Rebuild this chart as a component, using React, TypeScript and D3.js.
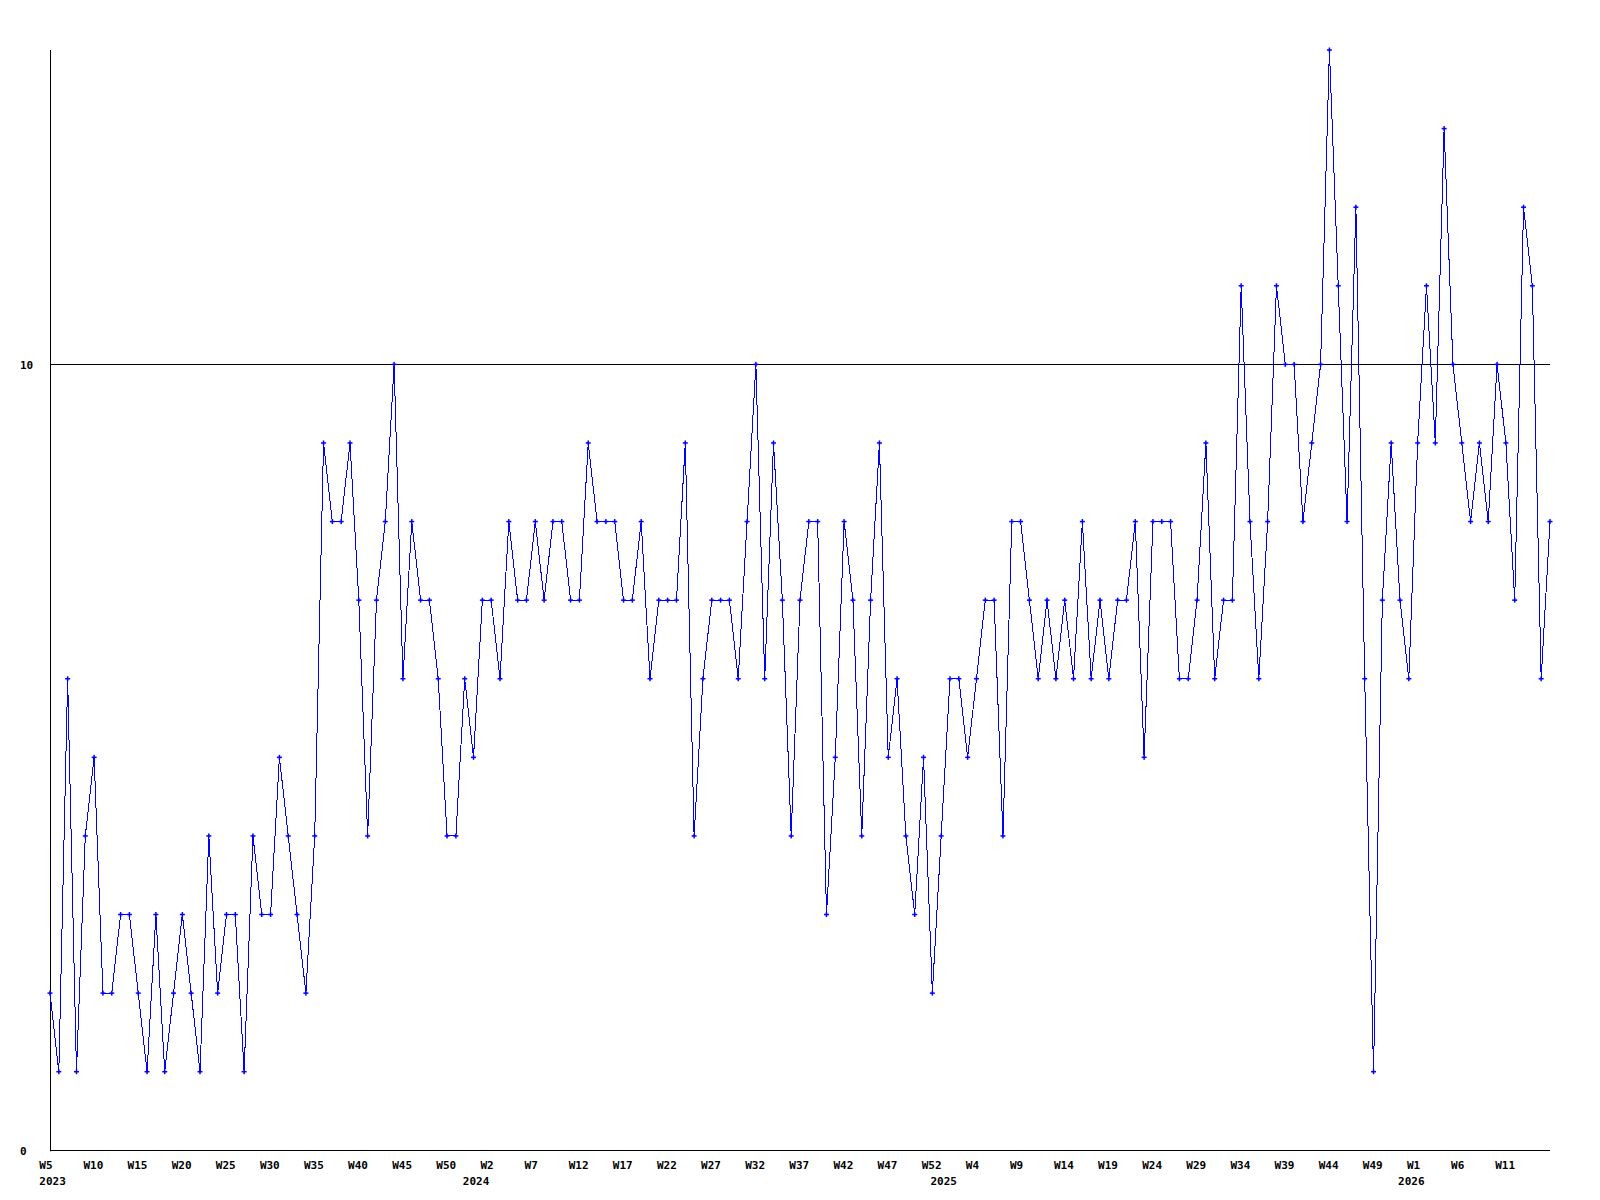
import React from "react";
import * as d3 from "d3";

// Weekly values, 2023 W5 .. 2026 W16 (one value per week)
const values: number[] = [
  2, 1, 6, 1, 4, 5, 2, 2, 3, 3, 2, 1, 3, 1, 2, 3, 2, 1, 4, 2,
  3, 3, 1, 4, 3, 3, 5, 4, 3, 2, 4, 9, 8, 8, 9, 7, 4, 7, 8, 10,
  6, 8, 7, 7, 6, 4, 4, 6, 5, 7, 7, 6, 8, 7, 7, 8, 7, 8, 8, 7,
  7, 9, 8, 8, 8, 7, 7, 8, 6, 7, 7, 7, 9, 4, 6, 7, 7, 7, 6, 8,
  10, 6, 9, 7, 4, 7, 8, 8, 3, 5, 8, 7, 4, 7, 9, 5, 6, 4, 3, 5,
  2, 4, 6, 6, 5, 6, 7, 7, 4, 8, 8, 7, 6, 7, 6, 7, 6, 8, 6, 7,
  6, 7, 7, 8, 5, 8, 8, 8, 6, 6, 7, 9, 6, 7, 7, 11, 8, 6, 8, 11,
  10, 10, 8, 9, 10, 14, 11, 8, 12, 6, 1, 7, 9, 7, 6, 9, 11, 9, 13, 10,
  9, 8, 9, 8, 10, 9, 7, 12, 11, 6, 8,
];

// x-axis week labels, one every 5 weeks starting at the first point
const weekTickLabels: string[] = [
  "W5", "W10", "W15", "W20", "W25", "W30", "W35", "W40", "W45", "W50",
  "W2", "W7", "W12", "W17", "W22", "W27", "W32", "W37", "W42", "W47", "W52",
  "W4", "W9", "W14", "W19", "W24", "W29", "W34", "W39", "W44", "W49",
  "W1", "W6", "W11",
];
const weekTickStep = 5;

// year labels and the week index where each appears
const yearLabels: string[] = ["2023", "2024", "2025", "2026"];
const yearLabelIndex: number[] = [0, 48, 101, 154];

// y-axis labels
const yTicks: number[] = [0, 10];

const W = 1600;
const H = 1200;
const left = 50;
const right = 1550;
const top = 50;
const bottom = 1150.3;

export default function App() {
  const x = d3.scaleLinear().domain([0, values.length - 1]).range([left, right]);
  const y = d3.scaleLinear().domain([0, 14]).range([bottom, top]);

  const line = d3
    .line<number>()
    .x((_, i) => x(i))
    .y((d) => y(d));

  const font = "'DejaVu Sans Mono', 'Liberation Mono', monospace";

  return (
    <svg
      width={W}
      height={H}
      style={{ position: "absolute", left: 0, top: 0, background: "#fff" }}
    >
      <rect x={0} y={0} width={W} height={H} fill="#fff" />
      {/* gridline at 10 */}
      <line x1={left} x2={right} y1={Math.round(y(10)) + 0.5} y2={Math.round(y(10)) + 0.5} stroke="#000" strokeWidth={1} />
      {/* axes */}
      <line x1={left + 0.5} x2={left + 0.5} y1={top} y2={bottom + 1} stroke="#000" strokeWidth={1} />
      <line x1={left} x2={right} y1={Math.round(bottom) + 0.5} y2={Math.round(bottom) + 0.5} stroke="#000" strokeWidth={1} />

      {/* data line */}
      <path
        d={line(values) || ""}
        fill="none"
        stroke="#0000ff"
        strokeWidth={1}
        shapeRendering="crispEdges"
      />
      {values.map((v, i) => {
        const cx = x(i);
        const cy = y(v);
        return (
          <g key={i} fill="#0000ff">
            <rect x={cx - 2.5} y={cy - 0.75} width={5} height={1.5} />
            <rect x={cx - 0.75} y={cy - 2.5} width={1.5} height={5} />
          </g>
        );
      })}

      {/* y labels */}
      {yTicks.map((t) => (
        <text
          key={t}
          x={20}
          y={y(t) + 4.5}
          fontFamily={font}
          fontWeight="bold"
          fontSize={11}
          fill="#000"
        >
          {t}
        </text>
      ))}

      {/* week labels */}
      {weekTickLabels.map((lab, k) => (
        <text
          key={lab + k}
          x={x(k * weekTickStep) - 10.7}
          y={1168.5}
          fontFamily={font}
          fontWeight="bold"
          fontSize={11}
          fill="#000"
        >
          {lab}
        </text>
      ))}

      {/* year labels */}
      {yearLabels.map((lab, k) => (
        <text
          key={lab}
          x={x(yearLabelIndex[k]) - 10.7}
          y={1185.3}
          fontFamily={font}
          fontWeight="bold"
          fontSize={11}
          fill="#000"
        >
          {lab}
        </text>
      ))}
    </svg>
  );
}
